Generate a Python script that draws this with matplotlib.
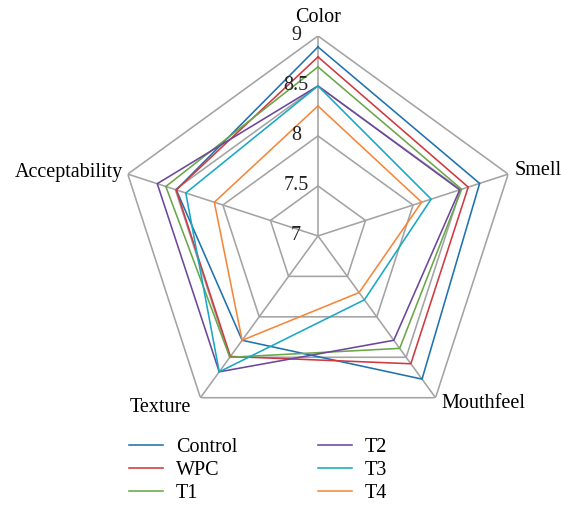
import numpy as np
import matplotlib.pyplot as plt
from matplotlib.transforms import offset_copy

plt.rcParams["font.family"] = ["Liberation Serif", "DejaVu Serif"]

# attributes, clockwise from the top
attributes = ["Color", "Smell", "Mouthfeel", "Texture", "Acceptability"]

# sensory scores
control = [8.89, 8.70, 8.77, 8.29, 8.49]
wpc = [8.79, 8.58, 8.58, 8.49, 8.49]
t1 = [8.69, 8.51, 8.39, 8.50, 8.60]
t2 = [8.50, 8.49, 8.29, 8.68, 8.69]
t3 = [8.50, 8.19, 7.79, 8.68, 8.39]
t4 = [8.30, 8.09, 7.70, 8.29, 8.09]

series = ["Control", "WPC", "T1", "T2", "T3", "T4"]
colors = ["#1f72b0", "#d0393f", "#6aa64a", "#6b479b", "#19a8c4", "#f5873a"]

rings = [7.5, 8, 8.5, 9]
ring_labels = ["9", "8.5", "8", "7.5", "7"]
ring_label_vals = [9, 8.5, 8, 7.5, 7]

angles = np.linspace(0, 2 * np.pi, len(attributes), endpoint=False)
closed = np.append(angles, angles[0])

fig = plt.figure(figsize=(5.61, 5.15), dpi=100)
ax = fig.add_axes([0.2103, 0.1534, 0.713, 0.777], projection="polar")
ax.set_theta_offset(np.pi / 2)
ax.set_theta_direction(-1)
ax.set_ylim(7, 9)
ax.grid(False)
ax.spines["polar"].set_visible(False)
ax.set_xticks([])
ax.set_yticks([])
ax.patch.set_visible(False)

grid_color = "#a3a3a3"
# pentagon rings and spokes
for r in rings:
    ax.plot(closed, [r] * len(closed), color=grid_color, lw=1.15, zorder=1)
for a in angles:
    ax.plot([a, a], [7, 9], color=grid_color, lw=1.15, zorder=1)

# data polygons
for name, vals, c in zip(series, [control, wpc, t1, t2, t3, t4], colors):
    v = np.append(vals, vals[0])
    ax.plot(closed, v, color=c, lw=1.15, label=name, zorder=3)

# radial value labels, a little left of the top spoke
tr = offset_copy(ax.transData, fig=fig, x=-22, y=0, units="dots")
for lab, r in zip(ring_labels, ring_label_vals):
    ax.text(0, r, lab, transform=tr, ha="center", va="center", fontsize=14.5, color="#222222")

# attribute labels
fs = 14.5
fig.text(318 / 561, 1 - 17 / 515, "Color", ha="center", va="center", fontsize=fs)
fig.text(515 / 561, 1 - 171 / 515, "Smell", ha="left", va="center", fontsize=fs)
fig.text(441 / 561, 1 - 404 / 515, "Mouthfeel", ha="left", va="center", fontsize=fs)
fig.text(191 / 561, 1 - 407 / 515, "Texture", ha="right", va="center", fontsize=fs)
fig.text(123 / 561, 1 - 173 / 515, "Acceptability", ha="right", va="center", fontsize=fs)

handles, labels = ax.get_legend_handles_labels()
fig.legend(handles, labels, ncol=2, loc="upper left",
           bbox_to_anchor=(129 / 561, 1 - 438 / 515), frameon=False,
           fontsize=fs, handlelength=1.7, handletextpad=0.63,
           columnspacing=4.0, labelspacing=0.2, borderpad=0, borderaxespad=0)

fig.savefig("out.png", dpi=100)
